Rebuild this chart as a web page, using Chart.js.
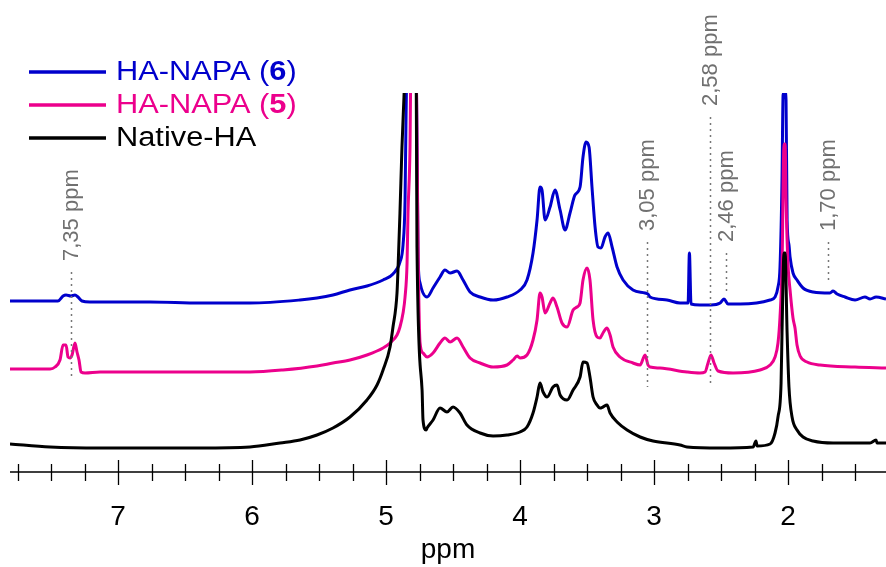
<!DOCTYPE html>
<html>
<head>
<meta charset="utf-8">
<script src="https://cdn.jsdelivr.net/npm/chart.js@4"></script>
<style>
  html, body { margin: 0; padding: 0; background: #fff; }
  canvas { display: block; }
</style>
</head>
<body>
<canvas id="nmrChart" width="886" height="567"></canvas>
<script>
// 1H NMR spectra, chemical shift (ppm) vs stacked intensity (a.u.)
const FONT = '"Liberation Sans", Arial, sans-serif';

// HA-NAPA (6)
const bluePpm = [7.806, 7.448, 7.410, 7.388, 7.351, 7.321, 7.299, 7.269, 7.209, 6.761,
  6.388, 6.015, 5.642, 5.515, 5.396, 5.269, 5.142, 5.022, 4.948, 4.896,
  4.873, 4.858, 4.843, 4.800, 4.776, 4.761, 4.746, 4.694, 4.649, 4.597,
  4.560, 4.522, 4.470, 4.425, 4.373, 4.298, 4.201, 4.097, 4.000, 3.948,
  3.903, 3.873, 3.851, 3.836, 3.813, 3.776, 3.739, 3.701, 3.664, 3.627,
  3.590, 3.552, 3.530, 3.507, 3.485, 3.463, 3.440, 3.418, 3.396, 3.366,
  3.343, 3.313, 3.276, 3.231, 3.157, 3.067, 3.045, 3.030, 2.903, 2.806,
  2.746, 2.736, 2.724, 2.657, 2.575, 2.507, 2.478, 2.448, 2.358, 2.134,
  2.097, 2.075, 2.060, 2.045, 2.037, 2.022, 2.015, 2.007, 1.993, 1.985,
  1.963, 1.933, 1.888, 1.813, 1.687, 1.664, 1.634, 1.575, 1.500, 1.426,
  1.388, 1.343, 1.269];
const blueInt = [171, 171, 176, 177, 176, 177, 175, 171, 170, 170,
  169, 169, 172, 174, 177, 182, 186, 192, 198, 210,
  227, 272, 430, 470, 430, 215, 189, 175, 184, 195,
  202, 199, 201, 192, 180, 175, 172, 175, 182, 192,
  219, 252, 285, 282, 252, 265, 282, 262, 242, 259,
  277, 285, 315, 330, 325, 285, 245, 225, 224, 235,
  239, 225, 205, 192, 182, 179, 178, 175, 172, 169,
  169, 219, 168, 167, 167, 169, 173, 168, 168, 172,
  175, 185, 205, 292, 377, 380, 372, 252, 227, 215,
  199, 192, 184, 180, 179, 181, 178, 175, 172, 175,
  173, 175, 173];

// HA-NAPA (5)
const pinkPpm = [7.806, 7.507, 7.470, 7.433, 7.410, 7.388, 7.373, 7.358, 7.343, 7.321,
  7.306, 7.291, 7.276, 7.246, 7.134, 6.388, 6.015, 5.769, 5.515, 5.396,
  5.269, 5.142, 5.022, 4.970, 4.918, 4.896, 4.873, 4.858, 4.843, 4.836,
  4.821, 4.813, 4.790, 4.776, 4.761, 4.746, 4.724, 4.694, 4.649, 4.597,
  4.560, 4.522, 4.470, 4.425, 4.373, 4.298, 4.201, 4.097, 4.052, 4.022,
  4.000, 3.948, 3.903, 3.873, 3.851, 3.836, 3.813, 3.776, 3.754, 3.724,
  3.687, 3.649, 3.604, 3.575, 3.552, 3.530, 3.500, 3.478, 3.455, 3.425,
  3.403, 3.381, 3.351, 3.328, 3.306, 3.254, 3.157, 3.104, 3.067, 3.045,
  3.030, 2.955, 2.754, 2.657, 2.619, 2.597, 2.575, 2.552, 2.522, 2.410,
  2.209, 2.134, 2.097, 2.075, 2.060, 2.045, 2.030, 2.022, 2.015, 2.000,
  1.985, 1.963, 1.948, 1.933, 1.910, 1.858, 1.761, 1.500, 1.269];
const pinkInt = [103, 103, 105, 112, 127, 127, 115, 114, 117, 129,
  120, 112, 100, 99, 100, 100, 100, 102, 106, 109,
  112, 117, 124, 129, 137, 145, 159, 175, 209, 259,
  325, 430, 470, 430, 225, 129, 119, 115, 119, 129,
  134, 130, 134, 125, 114, 109, 105, 107, 112, 116,
  114, 117, 132, 152, 179, 175, 159, 169, 174, 165,
  149, 145, 162, 165, 169, 192, 204, 192, 152, 135,
  134, 139, 144, 137, 125, 115, 109, 107, 117, 107,
  105, 104, 100, 99, 100, 109, 117, 109, 101, 99,
  102, 107, 115, 129, 155, 205, 328, 328, 272, 207,
  182, 154, 144, 127, 116, 110, 107, 105, 104];

// Native-HA
const blackPpm = [7.806, 7.507, 7.134, 6.388, 6.015, 5.791, 5.642, 5.515, 5.396, 5.269,
  5.142, 5.067, 5.022, 4.970, 4.948, 4.918, 4.910, 4.896, 4.881, 4.866,
  4.850, 4.800, 4.776, 4.769, 4.731, 4.724, 4.701, 4.694, 4.649, 4.597,
  4.545, 4.500, 4.448, 4.396, 4.298, 4.201, 4.097, 4.000, 3.948, 3.903,
  3.873, 3.851, 3.828, 3.798, 3.754, 3.724, 3.701, 3.649, 3.604, 3.552,
  3.530, 3.500, 3.478, 3.455, 3.425, 3.403, 3.381, 3.351, 3.328, 3.276,
  3.201, 3.104, 3.007, 2.806, 2.754, 2.507, 2.261, 2.239, 2.231, 2.134,
  2.097, 2.075, 2.052, 2.045, 2.030, 2.022, 2.007, 1.993, 1.970, 1.933,
  1.888, 1.813, 1.664, 1.388, 1.343, 1.336, 1.269];
const blackInt = [28, 25, 24, 24, 25, 29, 32, 37, 44, 55,
  72, 87, 102, 125, 145, 179, 205, 259, 325, 375,
  430, 470, 430, 225, 82, 52, 42, 44, 52, 64,
  60, 65, 59, 47, 39, 36, 37, 40, 45, 59,
  75, 89, 80, 75, 85, 87, 77, 72, 82, 95,
  110, 109, 95, 75, 67, 64, 65, 67, 59, 50,
  42, 35, 31, 27, 25, 24, 25, 31, 26, 28,
  39, 55, 89, 139, 219, 219, 139, 85, 55, 42,
  35, 31, 29, 29, 32, 29, 29];

// axis ticks
const majorTicks = [7, 6, 5, 4, 3, 2];
const minorTicks = [7.75, 7.5, 7.25, 6.75, 6.5, 6.25, 5.75, 5.5, 5.25,
  4.75, 4.5, 4.25, 3.75, 3.5, 3.25, 2.75, 2.5, 2.25, 1.75, 1.5];

// marked shifts: label, dotted line from/to (intensity units)
const markPpm = [7.35, 3.05, 2.58, 2.46, 1.70];
const markLabels = ["7,35 ppm", "3,05 ppm", "2,58 ppm", "2,46 ppm", "1,70 ppm"];
const markTop = [200, 230, 355, 219, 230];
const markBottom = [95, 85, 85, 180, 192];

const BLUE = "#0000CC";
const PINK = "#EC008C";
const BLACK = "#000000";

function toPoints(xs, ys) {
  return xs.map((x, i) => ({ x: x, y: ys[i] }));
}

// ---- plugins ----
const ppmAxis = {
  id: "ppmAxis",
  afterDraw(chart) {
    const { ctx, chartArea } = chart;
    const sx = chart.scales.x;
    const y0 = chartArea.bottom;
    ctx.save();
    ctx.strokeStyle = "#000";
    ctx.lineWidth = 1.3;
    ctx.beginPath();
    ctx.moveTo(chartArea.left, y0);
    ctx.lineTo(chartArea.right, y0);
    majorTicks.forEach((v) => {
      const px = Math.round(sx.getPixelForValue(v)) + 0.5;
      ctx.moveTo(px, y0 - 12);
      ctx.lineTo(px, y0 + 13);
    });
    minorTicks.forEach((v) => {
      const px = Math.round(sx.getPixelForValue(v)) + 0.5;
      ctx.moveTo(px, y0 - 8);
      ctx.lineTo(px, y0 + 9);
    });
    ctx.stroke();
    ctx.restore();
  },
};

const shiftMarks = {
  id: "shiftMarks",
  afterDatasetsDraw(chart) {
    const { ctx } = chart;
    const sx = chart.scales.x;
    const sy = chart.scales.y;
    ctx.save();
    markPpm.forEach((ppm, i) => {
      const px = Math.round(sx.getPixelForValue(ppm)) + 0.5;
      const yTop = sy.getPixelForValue(markTop[i]);
      const yBot = sy.getPixelForValue(markBottom[i]);
      ctx.strokeStyle = "#777";
      ctx.lineWidth = 1.5;
      ctx.setLineDash([2, 4]);
      ctx.beginPath();
      ctx.moveTo(px, yTop);
      ctx.lineTo(px, yBot);
      ctx.stroke();

      ctx.setLineDash([]);
      ctx.save();
      ctx.translate(px, yTop - 11);
      ctx.rotate(-Math.PI / 2);
      ctx.fillStyle = "#707070";
      ctx.font = "22px " + FONT;
      ctx.textAlign = "left";
      ctx.textBaseline = "middle";
      ctx.fillText(markLabels[i], 0, 0);
      ctx.restore();
    });
    ctx.restore();
  },
};

// legend with the compound number in bold
const spectraLegend = {
  id: "spectraLegend",
  afterDraw(chart) {
    const { ctx } = chart;
    const items = chart.data.datasets.slice().sort((a, b) => b.order - a.order);
    ctx.save();
    items.forEach((ds, i) => {
      const y = 72 + i * 33;
      ctx.strokeStyle = ds.borderColor;
      ctx.lineWidth = 3.5;
      ctx.beginPath();
      ctx.moveTo(29, y);
      ctx.lineTo(106, y);
      ctx.stroke();

      const parts = ds.label.split(/(\d+)/);
      ctx.save();
      ctx.translate(116, y + 1);
      ctx.scale(1.14, 1);
      ctx.fillStyle = ds.borderColor;
      ctx.textBaseline = "middle";
      let x = 0;
      parts.forEach((p) => {
        const bold = /^\d+$/.test(p);
        ctx.font = (bold ? "bold " : "") + "27px " + FONT;
        ctx.fillText(p, x, 0);
        x += ctx.measureText(p).width;
      });
      ctx.restore();
    });
    ctx.restore();
  },
};

// ---- chart ----
new Chart(document.getElementById("nmrChart"), {
  type: "line",
  data: {
    datasets: [
      { label: "HA-NAPA (6)", data: toPoints(bluePpm, blueInt), borderColor: BLUE, order: 3 },
      { label: "HA-NAPA (5)", data: toPoints(pinkPpm, pinkInt), borderColor: PINK, order: 2 },
      { label: "Native-HA", data: toPoints(blackPpm, blackInt), borderColor: BLACK, order: 1 },
    ],
  },
  options: {
    responsive: false,
    animation: false,
    events: [],
    layout: { padding: { top: 93, left: 10, right: 0, bottom: 0 } },
    elements: {
      line: { borderWidth: 3, cubicInterpolationMode: "monotone", fill: false },
      point: { radius: 0 },
    },
    plugins: { legend: { display: false }, tooltip: { enabled: false } },
    scales: {
      x: {
        type: "linear",
        reverse: true,
        min: 1.269,
        max: 7.806,
        grid: { display: false, drawTicks: false },
        border: { display: false },
        afterBuildTicks: (s) => { s.ticks = majorTicks.map((v) => ({ value: v })); },
        afterFit: (s) => { s.height = 95; },
        ticks: {
          autoSkip: false,
          maxRotation: 0,
          padding: 28,
          color: "#000",
          font: { family: FONT, size: 28 },
        },
        title: {
          display: true,
          text: "ppm",
          color: "#000",
          padding: { top: 0, bottom: 0 },
          font: { family: FONT, size: 28 },
        },
      },
      y: { display: false, min: 0, max: 379 },
    },
  },
  plugins: [ppmAxis, shiftMarks, spectraLegend],
});
</script>
</body>
</html>
